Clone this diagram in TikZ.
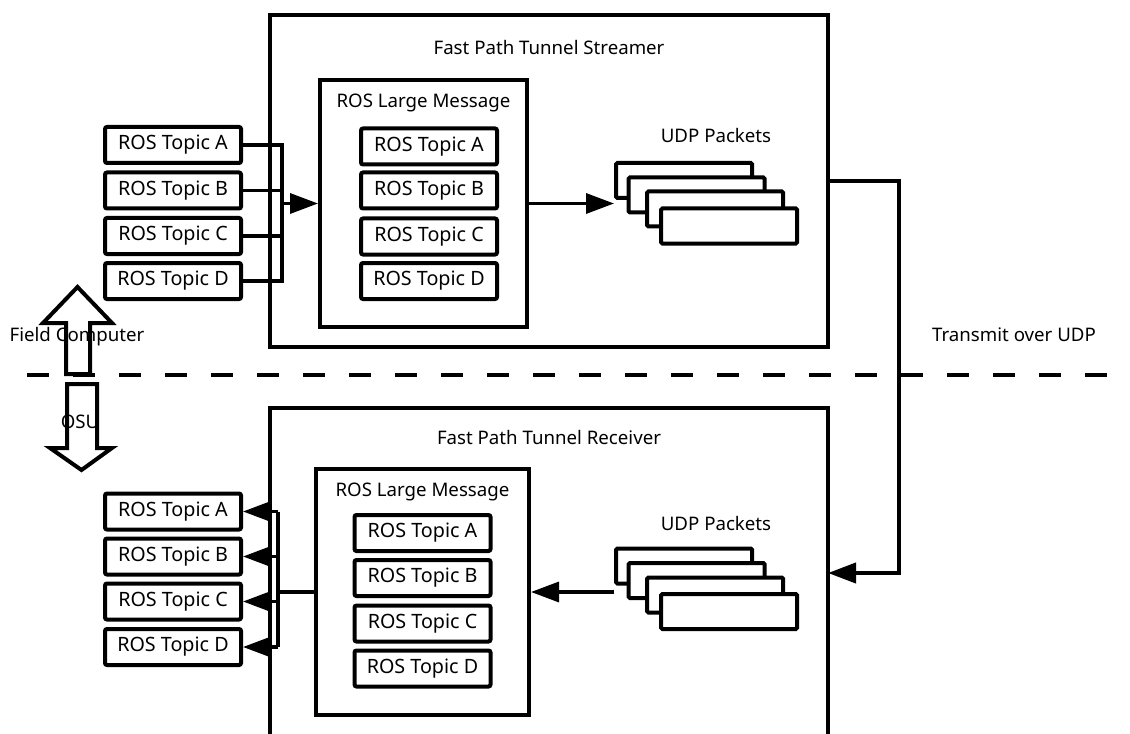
\documentclass[tikz,border=0pt]{standalone}
\usepackage{fontspec}
\setmainfont{Noto Sans}
\usetikzlibrary{arrows.meta}
\begin{document}
\begin{tikzpicture}[x=0.75pt,y=-0.75pt,
  font=\fontsize{14}{17}\selectfont,
  frame/.style={draw, line width=3pt, fill=white, inner sep=0pt},
  topic/.style={frame, rounded corners=1.5pt, minimum width=102pt, minimum height=27pt,
    font=\fontsize{14.8}{17}\selectfont},
  packet/.style={frame, rounded corners=1pt, minimum width=102pt, minimum height=26.25pt},
  caption/.style={inner sep=1pt},
  conn/.style={line width=2.5pt},
  arrowline/.style={conn, -{Triangle[length=21pt,width=15pt]}},
  blockarrow/.style={draw, line width=3pt, fill=white, line join=miter}
]
\clip (0,0) rectangle (1130,734);
\useasboundingbox (0,0) rectangle (1130,734);

% separation between the two sites
\draw[line width=3.5pt, dash pattern=on 16.5pt off 18pt] (27,375) -- (1135,375);

% ---------- streamer side ----------
\node[frame, minimum width=418.5pt, minimum height=249pt] (stream) at (549,181) {};
\node[caption] (streamTitle) at (549,48) {Fast Path Tunnel Streamer};
\node[frame, minimum width=155.25pt, minimum height=185.25pt] (msgS) at (423.5,203.5) {};
\node[caption] (msgSTitle) at (423.5,103) {ROS Large Message};
\node[topic] (sA) at (429,146.5) {ROS Topic A};
\node[topic] (sB) at (429,190.5) {ROS Topic B};
\node[topic] (sC) at (429,236.5) {ROS Topic C};
\node[topic] (sD) at (429,281) {ROS Topic D};

\node[topic] (inA) at (173,145) {ROS Topic A};
\node[topic] (inB) at (173,190.5) {ROS Topic B};
\node[topic] (inC) at (173,236) {ROS Topic C};
\node[topic] (inD) at (173,281) {ROS Topic D};

\node[caption] (udpS) at (716,136) {UDP Packets};
\node[packet] (pS1) at (684,180.5) {};
\node[packet] (pS2) at (696.5,195) {};
\node[packet] (pS3) at (715,209) {};
\node[packet] (pS4) at (729,226) {};

% input bus
\coordinate (busS) at (282,0);
\draw[conn] (inA.east) -| (busS |- inD.east) -- (inD.east);
\draw[conn] (inB.east) -- (inB.east -| busS);
\draw[conn] (inC.east) -- (inC.east -| busS);
\draw[arrowline] (busS |- msgS.west) -- (msgS.west);
\draw[arrowline] (msgS.east) -- (msgS.east -| pS1.west);

% ---------- receiver side ----------
\node[frame, minimum width=418.5pt, minimum height=264pt] (recv) at (549,584) {};
\node[caption] (recvTitle) at (549,437) {Fast Path Tunnel Receiver};
\node[frame, minimum width=159.75pt, minimum height=184.5pt] (msgR) at (422.5,592) {};
\node[caption] (msgRTitle) at (422.5,492) {ROS Large Message};
\node[topic] (rA) at (422.5,533) {ROS Topic A};
\node[topic] (rB) at (422.5,578) {ROS Topic B};
\node[topic] (rC) at (422.5,623.5) {ROS Topic C};
\node[topic] (rD) at (422.5,668.5) {ROS Topic D};

\node[topic] (outA) at (173,511.5) {ROS Topic A};
\node[topic] (outB) at (173,556.5) {ROS Topic B};
\node[topic] (outC) at (173,601.5) {ROS Topic C};
\node[topic] (outD) at (173,647) {ROS Topic D};

\node[caption] (udpR) at (716,523) {UDP Packets};
\node[packet] (pR1) at (684,566) {};
\node[packet] (pR2) at (696.5,580.5) {};
\node[packet] (pR3) at (715,595) {};
\node[packet] (pR4) at (729,611.5) {};

\draw[arrowline] (msgR.east -| pR1.west) -- (msgR.east);

% output bus
\coordinate (busR) at (278,0);
\draw[conn] (msgR.west) -- (msgR.west -| busR);
\draw[conn] (busR |- outA.east) -- (busR |- outD.east);
\draw[arrowline] (busR |- outA.east) -- (outA.east);
\draw[arrowline] (busR |- outB.east) -- (outB.east);
\draw[arrowline] (busR |- outC.east) -- (outC.east);
\draw[arrowline] (busR |- outD.east) -- (outD.east);

% link between the tunnels
\coordinate (txBend) at (899,375);
\coordinate (rxIn) at (828,573);
\draw[line width=3pt, -{Triangle[length=21pt,width=15pt]}] (stream.east) -| (txBend) |- (rxIn);
\node[caption] (txLabel) at (1014,335) {Transmit over UDP};

% site markers
\draw[blockarrow] (66,374) -- (66,323) -- (43,323) -- (77.5,287) -- (112,323) -- (90,323) -- (90,374) -- cycle;
\draw[blockarrow] (67,384) -- (97,384) -- (97,448) -- (112,448) -- (81.5,470) -- (50,448) -- (67,448) -- cycle;
\node[caption] (fieldLabel) at (77,337) {Field Computer};
\node[caption] (osuLabel) at (80,422) {OSU};
\end{tikzpicture}
\end{document}
